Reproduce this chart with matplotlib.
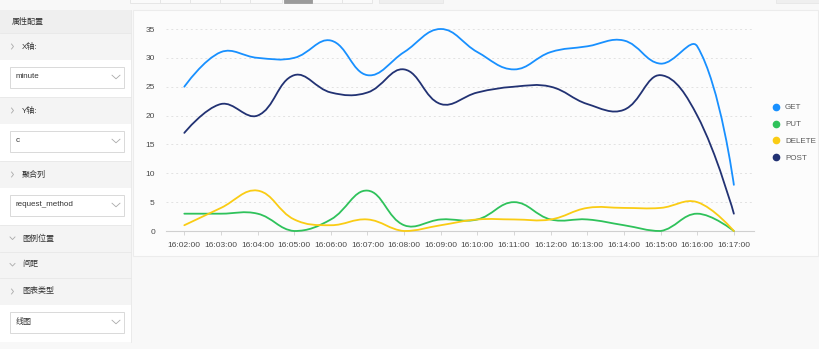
import numpy as np
import matplotlib
matplotlib.use("Agg")
import matplotlib.pyplot as plt
from matplotlib.patches import Rectangle, PathPatch
from matplotlib.path import Path
from matplotlib.lines import Line2D

plt.rcParams['font.family'] = ['Liberation Sans', 'Noto Sans CJK SC', 'DejaVu Sans']

# data
times = ["16:02:00", "16:03:00", "16:04:00", "16:05:00", "16:06:00", "16:07:00", "16:08:00",
         "16:09:00", "16:10:00", "16:11:00", "16:12:00", "16:13:00", "16:14:00", "16:15:00",
         "16:16:00", "16:17:00"]
get_vals = [25, 31, 30, 30, 33, 27, 31, 35, 31, 28, 31, 32, 33, 29, 32, 8]
put_vals = [3, 3, 3, 0, 2, 7, 1, 2, 2, 5, 2, 2, 1, 0, 3, 0]
delete_vals = [1, 4, 7, 2, 1, 2, 0, 1, 2, 2, 2, 4, 4, 4, 5, 0]
post_vals = [17, 22, 20, 27, 24, 24, 28, 22, 24, 25, 25, 22, 21, 27, 20, 3]

series_names = ["GET", "PUT", "DELETE", "POST"]
series_vals = [get_vals, put_vals, delete_vals, post_vals]
colors = ["#1890ff", "#2fc25b", "#facc14", "#223273"]

y_ticks = [0, 5, 10, 15, 20, 25, 30, 35]

# sidebar rows: (kind, label)
panel_rows = [
    ("head", "属性配置"),
    ("sec>", "X轴:"),
    ("drop", "minute"),
    ("sec>", "Y轴:"),
    ("drop", "c"),
    ("sec>", "聚合列"),
    ("drop", "request_method"),
    ("secv", "图例位置"),
    ("secv", "间距"),
    ("sec>", "图表类型"),
    ("drop", "线图"),
]
row_h = {"head": 23, "sec>": 27, "secv": 26.5, "drop": 37}

W, H = 820, 349
fig = plt.figure(figsize=(W / 100, H / 100), dpi=100, facecolor="#f8f8f8")

bg = fig.add_axes([0, 0, 1, 1])
bg.set_xlim(0, W)
bg.set_ylim(H, 0)
bg.axis("off")

# top tab strip remnants
for x0, x1 in [(130, 160), (160, 190), (190, 220), (220, 250), (250, 282), (312, 342), (342, 372)]:
    bg.add_patch(Rectangle((x0, -2), x1 - x0, 4.5, fc="#fafafa", ec="#e3e3e3", lw=0.6))
bg.add_patch(Rectangle((284, -2), 28, 4.5, fc="#9a9a9a", ec="#9a9a9a", lw=0.6))
bg.add_patch(Rectangle((379, -2), 64, 4.5, fc="#efefef", ec="#e6e6e6", lw=0.6))
bg.add_patch(Rectangle((776, -2), 50, 4.5, fc="#efefef", ec="#e6e6e6", lw=0.6))

# left panel
y = 10
txt_color = "#333333"
for kind, label in panel_rows:
    h = row_h[kind]
    if kind == "head":
        bg.add_patch(Rectangle((0, y), 131, h, fc="#efefef", ec="none"))
        bg.text(12, y + h / 2, label, fontsize=5.8, color=txt_color, va="center", ha="left")
    elif kind in ("sec>", "secv"):
        bg.add_patch(Rectangle((0, y), 131, h, fc="#f4f4f4", ec="none"))
        bg.plot([0, 131], [y, y], color="#e8e8e8", lw=0.6)
        cy = y + h / 2
        if kind == "sec>":
            bg.plot([11.5, 13.5, 11.5], [cy - 2.5, cy, cy + 2.5], color="#aaaaaa", lw=0.6)
        else:
            bg.plot([10, 12.5, 15], [cy - 1.3, cy + 1.3, cy - 1.3], color="#aaaaaa", lw=0.6)
        bg.text(22, cy, label, fontsize=5.8, color=txt_color, va="center", ha="left")
    else:
        bg.add_patch(Rectangle((0, y), 131, h, fc="#ffffff", ec="none"))
        bg.add_patch(Rectangle((10, y + 6.5), 114, 21, fc="#ffffff", ec="#d9d9d9", lw=0.7))
        cy = y + 17
        bg.text(16, cy, label, fontsize=5.8, color=txt_color, va="center", ha="left")
        bg.plot([112, 116, 120], [cy - 1.8, cy + 1.8, cy - 1.8], color="#aaaaaa", lw=0.6)
    y += h
bg.plot([131.5, 131.5], [10, y], color="#e8e8e8", lw=0.6)

# chart card
bg.add_patch(Rectangle((133, 10), 685, 246, fc="#fcfcfc", ec="#ececec", lw=0.8))

# chart axes
x0_px, x1_px = 166, 754
y_top, y_bot = 29, 231
ax = fig.add_axes([x0_px / W, 1 - y_bot / H, (x1_px - x0_px) / W, (y_bot - y_top) / H])
ax.set_facecolor("none")
xs = np.arange(len(times))
xmin, xmax = -0.5, 15.55
ax.set_xlim(xmin, xmax)
ax.set_ylim(0, 35)

# pixel scale for smoothing (same as the axes box)
sx = (x1_px - x0_px) / (xmax - xmin)
sy = (y_bot - y_top) / 35.0


def smooth_path(xv, yv, smooth=0.4):
    # catmull-rom style bezier control points computed in pixel space
    pts = np.column_stack([np.asarray(xv, float) * sx, np.asarray(yv, float) * sy])
    lo = np.array([xmin * sx, 0.0])
    hi = np.array([xmax * sx, 35 * sy])
    n = len(pts)
    cps = []
    cp0 = None
    for i in range(n):
        p = pts[i]
        if i == 0 or i == n - 1:
            prev, nxt = p, p
        else:
            prev, nxt = pts[i - 1], pts[i + 1]
        v = (nxt - prev) * smooth
        d0 = np.hypot(*(p - prev))
        d1 = np.hypot(*(p - nxt))
        s = d0 + d1
        if s != 0:
            d0, d1 = d0 / s, d1 / s
        cp1 = np.clip(p - v * d0, lo, hi)
        ncp0 = np.clip(p + v * d1, lo, hi)
        if i > 0:
            cps.append(cp0)
            cps.append(cp1)
        cp0 = ncp0
    verts = [pts[0]]
    codes = [Path.MOVETO]
    for i in range(1, n):
        verts += [cps[2 * (i - 1)], cps[2 * (i - 1) + 1], pts[i]]
        codes += [Path.CURVE4] * 3
    verts = np.array(verts) / np.array([sx, sy])
    return Path(verts, codes)


for name, vals, c in zip(series_names, series_vals, colors):
    ax.add_patch(PathPatch(smooth_path(xs, vals), fc="none", ec=c, lw=1.3, clip_on=False,
                           capstyle="round", joinstyle="round", zorder=3))

for v in y_ticks[1:]:
    ax.axhline(v, color="#e2e2e2", lw=0.7, ls=(0, (2, 3)), zorder=0)

for s in ["top", "right", "left"]:
    ax.spines[s].set_visible(False)
ax.spines["bottom"].set_color("#d0d0d0")
ax.spines["bottom"].set_linewidth(0.8)

ax.set_xticks(xs)
ax.set_xticklabels(times)
ax.set_yticks(y_ticks)
ax.tick_params(axis="x", length=3, width=0.6, color="#d0d0d0", labelsize=6, labelcolor="#4a4a4a", pad=5)
ax.tick_params(axis="y", length=0, labelsize=6, labelcolor="#4a4a4a", pad=8)

handles = [Line2D([], [], ls="none", marker="o", ms=4.5, mfc=c, mec=c) for c in colors]
fig.legend(handles, series_names, loc="center left", bbox_to_anchor=(772 / W, 1 - 133 / H),
           frameon=False, fontsize=5.8, labelcolor="#595959", labelspacing=1.15,
           handletextpad=0.6, handlelength=1.0, borderpad=0, borderaxespad=0)

fig.savefig("out.png", dpi=100, facecolor=fig.get_facecolor())
